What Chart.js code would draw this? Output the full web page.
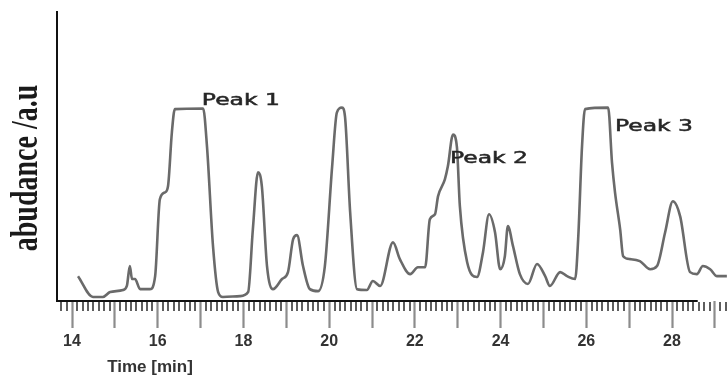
<!DOCTYPE html>
<html>
<head>
<meta charset="utf-8">
<script src="https://cdn.jsdelivr.net/npm/chart.js@4.4.1/dist/chart.umd.min.js"></script>
<style>
    html, body { margin: 0; padding: 0; background: #fff; }
    #wrap { width: 727px; height: 378px; }
</style>
</head>
<body>
<div id="wrap"><canvas id="chrom"></canvas></div>
<script>
// retention time (min) and signal (a.u.)
var timeMin = [
    14.14, 14.49, 14.72, 14.89, 15.19, 15.28, 15.35, 15.40, 15.47, 15.59,
    15.82, 15.94, 16.05, 16.17, 16.24, 16.33, 16.40, 17.06, 17.15, 17.29,
    17.41, 17.52, 17.92, 18.11, 18.22, 18.34, 18.43, 18.55, 18.69, 18.90,
    19.04, 19.16, 19.25, 19.39, 19.55, 19.74, 19.90, 20.07, 20.18, 20.30,
    20.37, 20.49, 20.65, 20.88, 21.02, 21.19, 21.49, 21.65, 21.89, 22.07,
    22.24, 22.35, 22.47, 22.54, 22.70, 22.77, 22.89, 22.98, 23.05, 23.22,
    23.45, 23.59, 23.73, 23.87, 23.99, 24.10, 24.17, 24.29, 24.45, 24.64,
    24.85, 25.04, 25.15, 25.39, 25.55, 25.74, 25.81, 25.90, 25.97, 26.51,
    26.60, 26.67, 26.79, 26.86, 27.02, 27.25, 27.49, 27.65, 27.84, 28.02,
    28.19, 28.42, 28.58, 28.72, 28.89, 29.05, 29.28
];
var abundance = [
    8.6, 1.4, 1.4, 3.1, 3.8, 5.2, 12.1, 7.6, 7.6, 4.1,
    4.1, 8.6, 35.2, 37.6, 39.7, 58.3, 66.4, 66.6, 53.4, 19.0,
    3.1, 1.4, 1.7, 3.1, 24.8, 44.5, 39.7, 12.1, 4.1, 7.6,
    10.0, 21.4, 22.8, 12.1, 4.1, 3.4, 12.1, 46.6, 65.2, 66.9,
    63.8, 30.7, 4.1, 3.8, 6.9, 5.2, 20.3, 14.5, 9.3, 11.7,
    11.7, 28.3, 30.0, 36.2, 42.1, 46.6, 57.6, 53.4, 32.8, 13.4,
    8.3, 16.9, 30.0, 23.8, 11.0, 15.5, 25.9, 19.0, 9.3, 5.9,
    12.8, 8.6, 5.2, 10.0, 8.6, 7.6, 21.4, 53.4, 66.4, 66.9,
    47.9, 37.6, 24.8, 15.5, 14.5, 13.8, 11.0, 12.1, 23.8, 34.5,
    29.3, 10.0, 9.3, 12.1, 11.0, 8.6, 8.6
];
var tickLabels = [14, 16, 18, 20, 22, 24, 26, 28];
var peakNames = ['Peak 1', 'Peak 2', 'Peak 3'];
var peakTime = [17.03, 22.82, 26.67];
var peakLevel = [67.8, 47.8, 58.8];
var xTitle = 'Time [min]';
var yTitle = 'abudance /a.u';

var points = timeMin.map(function (t, i) { return { x: t, y: abundance[i] }; });

// minor ticks, axis line and the loose texts
var decorPlugin = {
    id: 'decor',
    afterDraw: function (chart) {
        var ctx = chart.ctx;
        var xs = chart.scales.x;
        var ys = chart.scales.y;
        var area = chart.chartArea;
        ctx.save();

        ctx.beginPath();
        ctx.strokeStyle = '#5e5e5e';
        ctx.lineWidth = 2;
        for (var k = 0; k < 130; k++) {
            var t = 13.75 + k * 0.125;
            if (t > xs.max) break;
            if (Math.abs(t - Math.round(t)) < 0.01) continue;
            var px = Math.round(xs.getPixelForValue(t));
            ctx.moveTo(px, area.bottom + 1);
            ctx.lineTo(px, area.bottom + 10);
        }
        ctx.stroke();

        ctx.beginPath();
        ctx.strokeStyle = '#111';
        ctx.lineWidth = 2;
        ctx.moveTo(area.left, area.bottom);
        ctx.lineTo(xs.getPixelForValue(28.6), area.bottom);
        ctx.stroke();

        // peak names, drawn wide like the original
        ctx.fillStyle = '#262626';
        ctx.strokeStyle = '#262626';
        ctx.lineWidth = 0.5;
        ctx.font = '16px "DejaVu Sans"';
        ctx.textBaseline = 'alphabetic';
        ctx.textAlign = 'left';
        var s = 78 / ctx.measureText('Peak 1').width;
        peakNames.forEach(function (name, i) {
            ctx.save();
            ctx.translate(xs.getPixelForValue(peakTime[i]), ys.getPixelForValue(peakLevel[i]));
            ctx.scale(s, 1);
            ctx.fillText(name, 0, 0);
            ctx.strokeText(name, 0, 0);
            ctx.restore();
        });

        ctx.fillStyle = '#333';
        ctx.font = 'bold 17px "Liberation Sans"';
        ctx.textAlign = 'center';
        ctx.fillText(xTitle, 150, 372);

        ctx.save();
        ctx.fillStyle = '#1a1a1a';
        ctx.font = 'bold 28px "Liberation Serif"';
        ctx.translate(37, 168);
        ctx.rotate(-Math.PI / 2);
        ctx.scale(1, 1.35);
        ctx.textAlign = 'center';
        ctx.fillText(yTitle, 0, 0);
        ctx.restore();

        ctx.restore();
    }
};

new Chart(document.getElementById('chrom'), {
    type: 'scatter',
    data: {
        datasets: [{
            data: points,
            showLine: true,
            borderColor: '#6a6a6a',
            borderWidth: 2.6,
            pointRadius: 0,
            cubicInterpolationMode: 'monotone',
            fill: false
        }]
    },
    options: {
        responsive: true,
        maintainAspectRatio: false,
        animation: false,
        events: [],
        layout: { padding: { top: 12, left: 0, right: 0, bottom: 0 } },
        plugins: { legend: { display: false }, tooltip: { enabled: false } },
        scales: {
            x: {
                type: 'linear',
                min: 13.65,
                max: 29.283,
                afterFit: function (scale) { scale.height = 77; },
                border: { display: false },
                grid: {
                    display: true,
                    drawOnChartArea: false,
                    drawTicks: true,
                    tickLength: 27,
                    tickColor: '#8c8c8c',
                    tickWidth: 2.2
                },
                ticks: {
                    stepSize: 1,
                    includeBounds: false,
                    autoSkip: false,
                    maxRotation: 0,
                    padding: 4,
                    color: '#333',
                    font: { family: 'Liberation Sans', size: 16, weight: 'bold' },
                    callback: function (v) { return tickLabels.indexOf(v) >= 0 ? String(v) : ''; }
                }
            },
            y: {
                min: 0,
                max: 100,
                afterFit: function (scale) { scale.width = 57; },
                border: { display: true, color: '#111', width: 2 },
                grid: { display: false },
                ticks: { display: false }
            }
        }
    },
    plugins: [decorPlugin]
});
</script>
</body>
</html>
